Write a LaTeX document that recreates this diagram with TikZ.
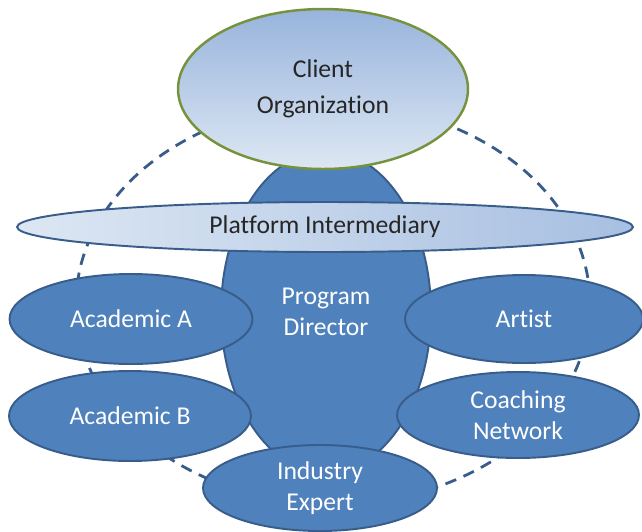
\documentclass[tikz,border=0pt]{standalone}
\usepackage{fontspec}
\setmainfont{Carlito}[Ligatures=NoCommon]
\usetikzlibrary{shapes.geometric}
\usetikzlibrary{positioning}

\definecolor{roleblue}{HTML}{4F81BD}
\definecolor{roleedge}{HTML}{385D8A}
\definecolor{clientedge}{HTML}{76923C}
\definecolor{paleblue}{HTML}{DDE7F3}
\definecolor{midblue}{HTML}{98B4DC}
\definecolor{labeldark}{HTML}{262626}

\newcommand{\rolefont}{\fontsize{14.6}{17.8}\selectfont}

\tikzset{
  role/.style={ellipse,draw=roleedge,line width=1.1pt,fill=roleblue,text=white,
    inner sep=0pt,align=center,font=\rolefont},
  client/.style={ellipse,draw=clientedge,line width=1.4pt,top color=midblue,bottom color=paleblue,
    text=labeldark,inner sep=0pt,align=center,font=\rolefont},
  platform/.style={ellipse,draw=roleedge,line width=1.1pt,left color=paleblue,right color=midblue!85,
    text=labeldark,inner sep=0pt,align=center,font=\rolefont},
  ring/.style={draw=roleedge,line width=1.6pt,dash pattern=on 0.23cm off 0.16cm}
}

\begin{document}
\begin{tikzpicture}[x=0.02cm,y=-0.02cm]
\useasboundingbox (0,0) rectangle (642,531);

% dashed ring behind everything
\draw[ring] (333,304) ellipse [x radius=257,y radius=200];

\node[role,minimum width=4.2cm,minimum height=6.44cm] (director) at (326,312) {Program\\Director};
\node[role,minimum width=4.86cm,minimum height=1.8cm] (academicA) at (131,319) {Academic A};
\node[role,minimum width=4.84cm,minimum height=1.8cm] (academicB) at (130,416) {Academic B};
\node[role,minimum width=4.76cm,minimum height=1.76cm] (artist) at (524,319) {Artist};
\node[role,minimum width=4.84cm,minimum height=1.72cm] (coaching) at (518,415) {Coaching\\Network};
\node[role,minimum width=4.68cm,minimum height=1.72cm] (industry) at (320,488) {Industry\\Expert};

\node[platform,minimum width=12.32cm,minimum height=1.0cm] (intermediary) at (325,227) {Platform Intermediary};
\node[client,minimum width=5.8cm,minimum height=3.2cm] (clientorg) at (323,89) {Client\\[2.5pt]Organization};

\end{tikzpicture}
\end{document}
